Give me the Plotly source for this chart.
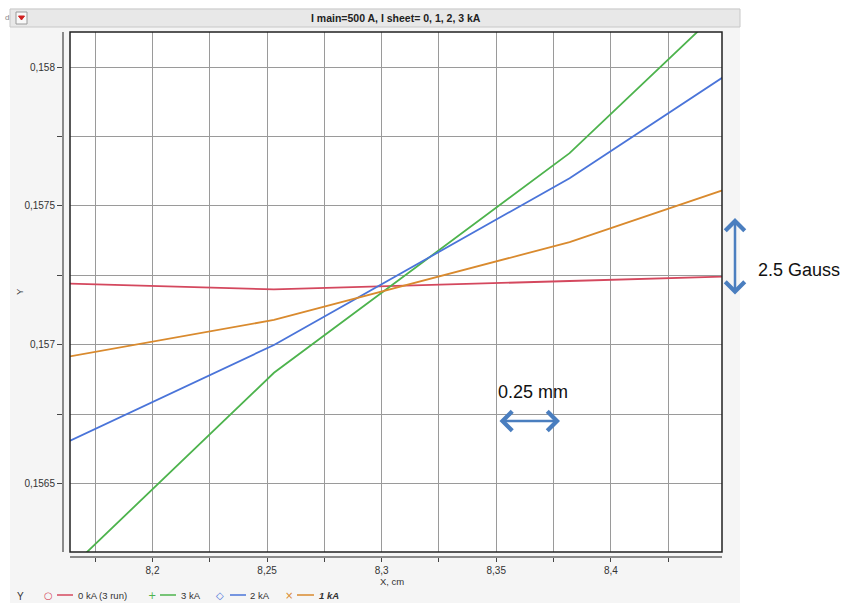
import plotly.graph_objects as go

# ---------------- data ----------------
x_cm = [8.124, 8.253, 8.382, 8.511]
y_0kA = [0.15723, 0.15720, 0.15723, 0.15726]
y_3kA = [0.15588, 0.15690, 0.15769, 0.15870]
y_2kA = [0.15650, 0.15700, 0.15760, 0.15830]
y_1kA = [0.15690, 0.15709, 0.15737, 0.15773]

series_names = ["0 kA (3 run)", "3 kA", "2 kA", "1 kA"]
series_colors = ["#d4485e", "#4db34d", "#4a74d9", "#d98a2e"]

x_tickvals = [8.175, 8.2, 8.225, 8.25, 8.275, 8.3, 8.325, 8.35, 8.375, 8.4, 8.425]
x_ticktext = ["", "8,2", "", "8,25", "", "8,3", "", "8,35", "", "8,4", ""]
y_tickvals = [0.1565, 0.15675, 0.157, 0.15725, 0.1575, 0.15775, 0.158]
y_ticktext = ["0,1565", "", "0,157", "", "0,1575", "", "0,158"]

title_text = "I main=500 A, I sheet= 0, 1, 2, 3 kA"

# ---------------- layout helpers ----------------
W, H = 842, 603


def fx(p):
    return p / W


def fy(p):
    return 1 - p / H


PL, PR, PT, PB = 70, 722, 32, 552
FONT = "Liberation Sans, Arial, sans-serif"

fig = go.Figure()
for name, ys, col in zip(series_names, [y_0kA, y_3kA, y_2kA, y_1kA], series_colors):
    fig.add_trace(go.Scatter(x=x_cm, y=ys, mode="lines", name=name,
                             line=dict(color=col, width=1.8), showlegend=False))

shapes = []
# white outer strips
shapes.append(dict(type="rect", xref="paper", yref="paper", x0=fx(740), x1=1, y0=0, y1=1,
                   fillcolor="white", line=dict(width=0), layer="below"))
shapes.append(dict(type="rect", xref="paper", yref="paper", x0=0, x1=1, y0=fy(8), y1=1,
                   fillcolor="white", line=dict(width=0), layer="below"))
shapes.append(dict(type="rect", xref="paper", yref="paper", x0=0, x1=fx(10), y0=0, y1=1,
                   fillcolor="white", line=dict(width=0), layer="below"))
# title bar
shapes.append(dict(type="rect", xref="paper", yref="paper", x0=fx(10), x1=fx(740), y0=fy(27), y1=fy(9),
                   fillcolor="#e8e8e8", line=dict(color="#c8c8c8", width=1), layer="below"))
# dropdown button in title bar
shapes.append(dict(type="rect", xref="paper", yref="paper", x0=fx(16), x1=fx(27), y0=fy(24), y1=fy(12),
                   fillcolor="#f8f8f8", line=dict(color="#9a9a9a", width=1), layer="above"))
shapes.append(dict(type="path", xref="paper", yref="paper",
                   path=f"M {fx(18.5)} {fy(16)} L {fx(24.5)} {fy(16)} L {fx(21.5)} {fy(20)} Z",
                   fillcolor="#d02020", line=dict(color="#d02020", width=1), layer="above"))
# plot border
shapes.append(dict(type="rect", xref="paper", yref="paper", x0=fx(PL), x1=fx(PR), y0=fy(PB), y1=fy(PT),
                   line=dict(color="#222222", width=1.5), fillcolor="rgba(0,0,0,0)", layer="above"))

annotations = []
annotations.append(dict(x=fx(396), y=fy(18), xref="paper", yref="paper", text="<b>" + title_text + "</b>",
                        showarrow=False, font=dict(family=FONT, size=10.5, color="#222222"),
                        xanchor="center", yanchor="middle"))
annotations.append(dict(x=fx(7), y=fy(18), xref="paper", yref="paper", text="d",
                        showarrow=False, font=dict(family=FONT, size=8, color="#888888"),
                        xanchor="center", yanchor="middle"))
# axis titles
annotations.append(dict(x=fx(392), y=fy(581), xref="paper", yref="paper", text="X, cm",
                        showarrow=False, font=dict(family=FONT, size=9.5, color="#333333"),
                        xanchor="center", yanchor="middle"))
annotations.append(dict(x=fx(19), y=fy(292), xref="paper", yref="paper", text="Y", textangle=-90,
                        showarrow=False, font=dict(family=FONT, size=9.5, color="#333333"),
                        xanchor="center", yanchor="middle"))

# legend (manual)
LY = 595
annotations.append(dict(x=fx(20), y=fy(LY + 1), xref="paper", yref="paper", text="Y",
                        showarrow=False, font=dict(family=FONT, size=10, color="#333333"),
                        xanchor="center", yanchor="middle"))
leg_items = [
    (48, 57, 73, 76, "○", series_names[0]),
    (152, 160, 176, 179, "+", series_names[1]),
    (220, 230, 246, 248, "◇", series_names[2]),
    (289, 297, 314, 317, "×", "<b><i>" + series_names[3] + "</i></b>"),
]
for (mx, l0, l1, tx, sym, label), col in zip(leg_items, series_colors):
    annotations.append(dict(x=fx(mx), y=fy(LY), xref="paper", yref="paper", text=sym,
                            showarrow=False, font=dict(family="DejaVu Sans", size=10, color=col),
                            xanchor="center", yanchor="middle"))
    shapes.append(dict(type="line", xref="paper", yref="paper", x0=fx(l0), x1=fx(l1), y0=fy(LY), y1=fy(LY),
                       line=dict(color=col, width=1.5), layer="above"))
    annotations.append(dict(x=fx(tx), y=fy(LY), xref="paper", yref="paper", text=label,
                            showarrow=False, font=dict(family=FONT, size=9.5, color="#333333"),
                            xanchor="left", yanchor="middle"))

# measurement annotations
ARROW = "#4a7ebf"
annotations.append(dict(x=fx(533), y=fy(392), xref="paper", yref="paper", text="0.25 mm",
                        showarrow=False, font=dict(family=FONT, size=18, color="#111111"),
                        xanchor="center", yanchor="middle"))
annotations.append(dict(x=fx(560), y=fy(421), xref="paper", yref="paper", text="",
                        showarrow=True, ax=-62, ay=0, arrowside="end+start", arrowhead=4,
                        startarrowhead=4, arrowsize=1.5, startarrowsize=1.5, arrowwidth=2.5,
                        arrowcolor=ARROW, standoff=0, startstandoff=0))
annotations.append(dict(x=fx(735), y=fy(218), xref="paper", yref="paper", text="",
                        showarrow=True, ax=0, ay=78, arrowside="end+start", arrowhead=4,
                        startarrowhead=4, arrowsize=1.5, startarrowsize=1.5, arrowwidth=2.5,
                        arrowcolor=ARROW, standoff=0, startstandoff=0))
annotations.append(dict(x=fx(756), y=fy(270), xref="paper", yref="paper", text="2.5 Gauss",
                        showarrow=False, font=dict(family=FONT, size=18, color="#111111"),
                        xanchor="left", yanchor="middle"))

fig.update_layout(
    width=W, height=H,
    margin=dict(l=0, r=0, t=0, b=0),
    paper_bgcolor="#f5f5f5",
    plot_bgcolor="white",
    showlegend=False,
    shapes=shapes,
    annotations=annotations,
    xaxis=dict(
        domain=[fx(PL), fx(PR)],
        range=[8.164, 8.4485],
        anchor="free", position=fy(557),
        tickvals=x_tickvals, ticktext=x_ticktext,
        ticks="outside", ticklen=4, tickcolor="#444444", tickwidth=1,
        showline=True, linecolor="#8a8a8a", linewidth=2,
        showgrid=True, gridcolor="#9a9a9a", gridwidth=1.2,
        zeroline=False,
        tickfont=dict(family=FONT, size=10, color="#333333"),
    ),
    yaxis=dict(
        domain=[fy(PB), fy(PT)],
        range=[0.156255, 0.158126],
        anchor="free", position=fx(63),
        tickvals=y_tickvals, ticktext=y_ticktext,
        ticks="outside", ticklen=5, tickcolor="#444444", tickwidth=1,
        showline=True, linecolor="#8a8a8a", linewidth=2,
        showgrid=True, gridcolor="#9a9a9a", gridwidth=1.2,
        zeroline=False,
        tickfont=dict(family=FONT, size=10, color="#333333"),
    ),
)

fig.write_html("out.html")
